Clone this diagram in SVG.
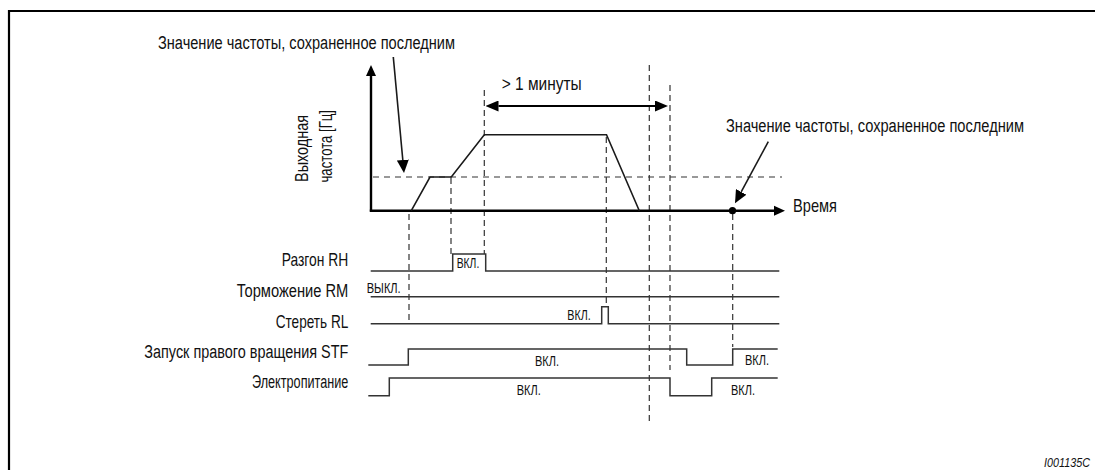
<svg xmlns="http://www.w3.org/2000/svg" width="1095" height="470" viewBox="0 0 1095 470">
<style>
.t{font-family:"Liberation Sans",Arial,sans-serif;font-size:19px;fill:#111}
.s{font-family:"Liberation Sans",Arial,sans-serif;font-size:14.5px;fill:#111}
.id{font-family:"Liberation Sans",Arial,sans-serif;font-size:13.5px;font-style:italic;fill:#111}
.ax{stroke:#000;stroke-width:2.4;fill:none}
.ln{stroke:#1a1a1a;stroke-width:1.6;fill:none}
.sig{stroke:#333;stroke-width:1.5;fill:none}
.dash{stroke:#333;stroke-width:1.2;fill:none;stroke-dasharray:6 5}
.vd{stroke:#333;stroke-width:1.2;fill:none;stroke-dasharray:6 4}
</style>
<defs>
<marker id="hd" viewBox="0 0 13 11" refX="0" refY="5.5" markerWidth="13" markerHeight="11" markerUnits="userSpaceOnUse" orient="auto-start-reverse"><path d="M0,0 L13,5.5 L0,11 z" fill="#000"/></marker>
<marker id="ld" viewBox="0 0 13 12" refX="0" refY="6" markerWidth="13" markerHeight="12" markerUnits="userSpaceOnUse" orient="auto"><path d="M0,0 L13,6 L0,12 z" fill="#000"/></marker>
</defs>

<g id="frame">
<path d="M9,470 L9,11 L1095,11" stroke="#000" stroke-width="2.2" fill="none"/>
</g>

<g id="guides">
<line class="dash" x1="373" y1="177" x2="782" y2="177"/>
<line class="vd" x1="409" y1="214" x2="409" y2="322"/>
<line class="vd" x1="451" y1="178" x2="451" y2="254"/>
<line class="vd" x1="484.3" y1="90" x2="484.3" y2="254"/>
<line class="vd" x1="606.3" y1="137" x2="606.3" y2="305"/>
<line class="vd" x1="649.3" y1="65" x2="649.3" y2="423"/>
<line class="vd" x1="670" y1="85" x2="670" y2="370"/>
<line class="vd" x1="732.7" y1="214" x2="732.7" y2="347"/>
</g>

<g id="axes">
<line class="ax" x1="371" y1="211.5" x2="371" y2="76"/>
<line class="ax" x1="369.8" y1="210.7" x2="774" y2="210.7"/>
<path d="M371,76 L366,76 L371,65 L376,76 z" fill="#000"/>
<path d="M774,205.7 L785,210.7 L774,215.7 z" fill="#000"/>
<circle cx="732.5" cy="210.7" r="3.6" fill="#000"/>
</g>

<g id="frequency-curve">
<polyline class="ln" points="411.3,210.7 430,177 451.3,177 484.3,134.7 606.5,134.7 639.3,210.7"/>
</g>

<g id="connectors">
<line class="ln" x1="393.3" y1="57" x2="402.8" y2="160" marker-end="url(#ld)"/>
<line class="ln" x1="768.3" y1="141.7" x2="741.2" y2="191.9" marker-end="url(#ld)"/>
<line stroke="#000" stroke-width="2" x1="498.5" y1="106" x2="655" y2="106" marker-start="url(#hd)" marker-end="url(#hd)"/>
</g>

<g id="labels">
<text class="t" transform="translate(158,49) scale(0.8,1)" textLength="371.25" lengthAdjust="spacingAndGlyphs">Значение частоты, сохраненное последним</text>
<text class="t" transform="translate(726,131.5) scale(0.8,1)" textLength="372.5" lengthAdjust="spacingAndGlyphs">Значение частоты, сохраненное последним</text>
<text class="t" x="501.7" y="90" textLength="80" lengthAdjust="spacingAndGlyphs">&gt; 1 минуты</text>
<text class="t" x="793" y="212" textLength="44" lengthAdjust="spacingAndGlyphs">Время</text>
<text class="t" transform="translate(308,182) rotate(-90)" textLength="67" lengthAdjust="spacingAndGlyphs">Выходная</text>
<text class="t" transform="translate(332,182.5) rotate(-90)" textLength="72.5" lengthAdjust="spacingAndGlyphs">частота [Гц]</text>
<text class="id" transform="translate(1044,466.5) scale(0.8,1)" textLength="57.5" lengthAdjust="spacingAndGlyphs">I001135C</text>
</g>

<g id="signal-RH">
<text class="t" x="281.7" y="266" textLength="66.6" lengthAdjust="spacingAndGlyphs">Разгон RH</text>
<polyline class="sig" points="370.7,271 452.7,271 452.7,254 485.7,254 485.7,271 779.3,271"/>
<text class="s" x="456.7" y="267.7" textLength="22.6" lengthAdjust="spacingAndGlyphs">ВКЛ.</text>
</g>

<g id="signal-RM">
<text class="t" transform="translate(236.7,296.7) scale(0.8,1)" textLength="139.5" lengthAdjust="spacingAndGlyphs">Торможение RM</text>
<line class="sig" x1="370.7" y1="296.7" x2="779.3" y2="296.7"/>
<text class="s" x="366.7" y="293.3" textLength="34" lengthAdjust="spacingAndGlyphs">ВЫКЛ.</text>
</g>

<g id="signal-RL">
<text class="t" x="275.7" y="328.3" textLength="72.6" lengthAdjust="spacingAndGlyphs">Стереть RL</text>
<polyline class="sig" points="370.7,323.7 601.7,323.7 601.7,306.7 608.3,306.7 608.3,323.7 779.3,323.7"/>
<text class="s" x="567.3" y="320" textLength="23.4" lengthAdjust="spacingAndGlyphs">ВКЛ.</text>
</g>

<g id="signal-STF">
<text class="t" transform="translate(144.3,358.3) scale(0.8,1)" textLength="255" lengthAdjust="spacingAndGlyphs">Запуск правого вращения STF</text>
<polyline class="sig" points="368.3,365 408.3,365 408.3,349 686.7,349 686.7,365 732.7,365 732.7,349 777.7,349"/>
<text class="s" x="535" y="366" textLength="24" lengthAdjust="spacingAndGlyphs">ВКЛ.</text>
<text class="s" x="745" y="365" textLength="24" lengthAdjust="spacingAndGlyphs">ВКЛ.</text>
</g>

<g id="signal-power">
<text class="t" transform="translate(252,387.5) scale(0.8,1)" textLength="120.4" lengthAdjust="spacingAndGlyphs">Электропитание</text>
<polyline class="sig" points="368.3,395.7 389.3,395.7 389.3,378 670,378 670,395.7 711.7,395.7 711.7,378 777.7,378"/>
<text class="s" x="516.7" y="395" textLength="24" lengthAdjust="spacingAndGlyphs">ВКЛ.</text>
<text class="s" x="731" y="395" textLength="24" lengthAdjust="spacingAndGlyphs">ВКЛ.</text>
</g>
</svg>
